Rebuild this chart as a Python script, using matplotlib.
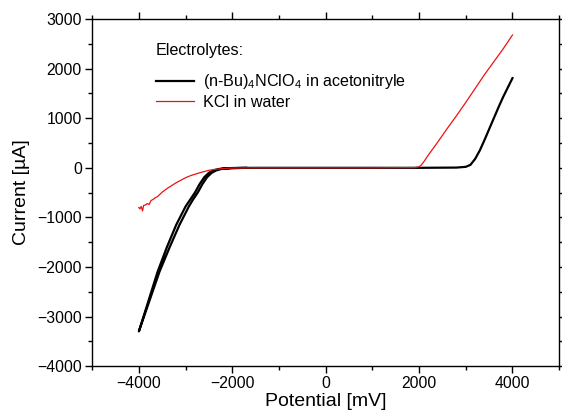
import numpy as np
import matplotlib
matplotlib.use('Agg')
import matplotlib.pyplot as plt
from matplotlib.ticker import MultipleLocator

plt.rcParams['font.family'] = ['Liberation Sans', 'DejaVu Sans']
plt.rcParams['mathtext.fontset'] = 'custom'
plt.rcParams['mathtext.rm'] = 'Liberation Sans'
plt.rcParams['mathtext.default'] = 'regular'

# (n-Bu)4NClO4 in acetonitryle - scan out and back (mV, uA)
tba_pot = [-1700, -2000, -2200, -2300, -2400, -2500, -2600, -2700, -2800,
           -2900, -3000, -3200, -3400, -3600, -3800, -4000,
           -3780, -3560, -3340, -3130, -2930, -2840, -2740, -2640, -2540,
           -2440, -2340, -2240, -2040, -1800, -1500, 0, 1100, 2000, 2800,
           3000, 3100, 3200, 3300, 3400, 3500, 3600, 3700, 3800, 3900, 4000]
tba_cur = [0, -4, -12, -25, -50, -100, -190, -330, -500,
           -640, -780, -1150, -1600, -2100, -2700, -3300,
           -2700, -2100, -1600, -1150, -780, -640, -500, -330, -190,
           -100, -50, -25, -8, -2, 0, 0, 0, 0, 5,
           20, 60, 180, 350, 560, 780, 1000, 1220, 1430, 1620, 1810]

# KCl in water
kcl_pot = [-4000, -3980, -3950, -3920, -3900, -3860, -3820, -3780, -3740,
           -3700, -3660, -3600, -3500, -3400, -3300, -3200, -3100, -3000,
           -2900, -2800, -2700, -2600, -2500, -2400, -2300, -2200, -2100,
           -2000, -1500, 0, 1000, 1900, 2000, 2050, 2100, 2200, 2400, 2600,
           2800, 3000, 3200, 3400, 3600, 3800, 4000]
kcl_cur = [-800, -830, -780, -870, -760, -750, -720, -740, -660,
           -640, -610, -580, -490, -420, -360, -300, -250, -200,
           -160, -130, -100, -75, -50, -35, -25, -15, -8,
           -5, 0, 0, 0, 5, 20, 60, 120, 260, 520, 790,
           1050, 1320, 1600, 1880, 2140, 2400, 2680]

fig = plt.figure(figsize=(5.62, 4.16), dpi=100)
ax = fig.add_axes([0.164, 0.12, 0.831, 0.834])

ax.plot(tba_pot, tba_cur, color='black', lw=1.6,
        label=r'(n-Bu)$_4$NClO$_4$ in acetonitryle')
ax.plot(kcl_pot, kcl_cur, color='#ee1111', lw=0.9, label='KCl in water')

ax.set_xlim(-5000, 5000)
ax.set_ylim(-4000, 3000)
ax.xaxis.set_major_locator(MultipleLocator(2000))
ax.xaxis.set_minor_locator(MultipleLocator(1000))
ax.yaxis.set_major_locator(MultipleLocator(1000))
ax.yaxis.set_minor_locator(MultipleLocator(500))
ax.tick_params(which='both', direction='out', top=True, right=True,
               labelsize=11.3, width=1)
ax.tick_params(which='major', length=5, pad=2.5)
ax.tick_params(which='minor', length=3)
for s in ax.spines.values():
    s.set_linewidth(1)

ax.set_xlabel('Potential [mV]', fontsize=14, labelpad=1)
ax.set_ylabel('Current [\u00b5A]', fontsize=14, labelpad=5)

leg = ax.legend(title='Electrolytes:', loc='upper left',
                bbox_to_anchor=(0.136, 0.93), borderaxespad=0, borderpad=0,
                frameon=False, fontsize=11.6, title_fontsize=11.6,
                alignment='left', handlelength=2.4, handletextpad=0.56,
                labelspacing=0.2)
leg._legend_box.sep = 10

fig.savefig('out.png', dpi=100)
